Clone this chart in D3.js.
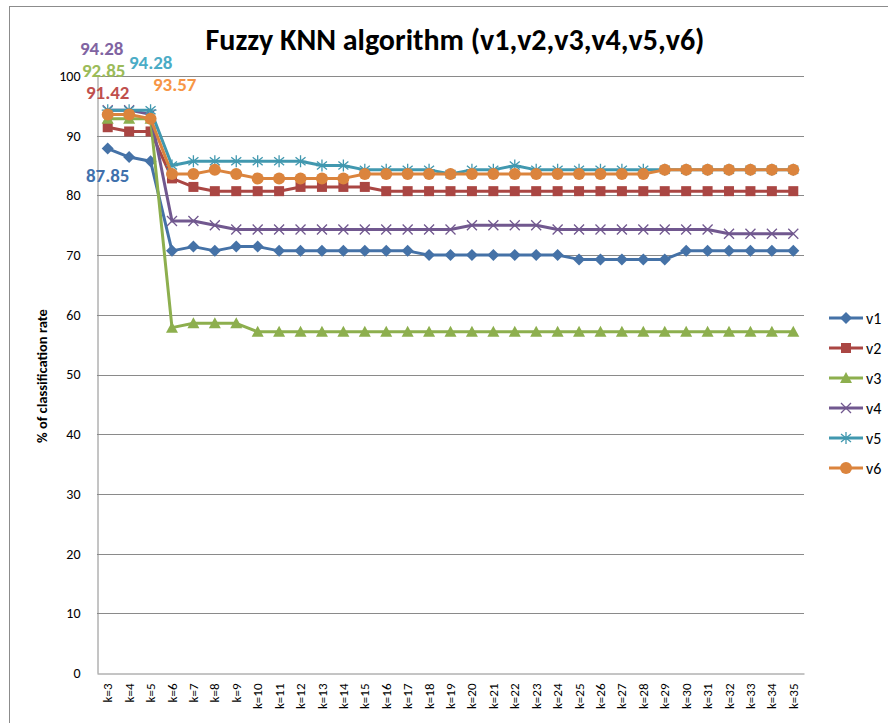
<!DOCTYPE html>
<html>
<head>
<meta charset="utf-8">
<script src="https://cdn.jsdelivr.net/npm/d3@7"></script>
<style>
  body { margin: 0; background: #fff; }
  svg { display: block; }
  svg text { font-family: Carlito, Calibri, Lato, "Open Sans", sans-serif; }
</style>
</head>
<body>
<svg id="chart" width="888" height="723"></svg>
<script>
const categories = d3.range(3, 36).map(k => `k=${k}`);

const v1 = [87.85, 86.42, 85.71, 70.71, 71.42, 70.71, 71.42, 71.42, 70.71, 70.71, 70.71, 70.71, 70.71, 70.71, 70.71,
  70.0, 70.0, 70.0, 70.0, 70.0, 70.0, 70.0, 69.28, 69.28, 69.28, 69.28, 69.28, 70.71, 70.71, 70.71, 70.71, 70.71, 70.71];
const v2 = [91.42, 90.71, 90.71, 82.85, 81.42, 80.71, 80.71, 80.71, 80.71, 81.42, 81.42, 81.42, 81.42, 80.71, 80.71,
  80.71, 80.71, 80.71, 80.71, 80.71, 80.71, 80.71, 80.71, 80.71, 80.71, 80.71, 80.71, 80.71, 80.71, 80.71, 80.71, 80.71, 80.71];
const v3 = [92.85, 92.85, 92.85, 57.85, 58.57, 58.57, 58.57, 57.14, 57.14, 57.14, 57.14, 57.14, 57.14, 57.14, 57.14,
  57.14, 57.14, 57.14, 57.14, 57.14, 57.14, 57.14, 57.14, 57.14, 57.14, 57.14, 57.14, 57.14, 57.14, 57.14, 57.14, 57.14, 57.14];
const v4 = [94.28, 94.28, 93.57, 75.71, 75.71, 75.0, 74.28, 74.28, 74.28, 74.28, 74.28, 74.28, 74.28, 74.28, 74.28,
  74.28, 74.28, 75.0, 75.0, 75.0, 75.0, 74.28, 74.28, 74.28, 74.28, 74.28, 74.28, 74.28, 74.28, 73.57, 73.57, 73.57, 73.57];
const v5 = [94.28, 94.28, 94.28, 85.0, 85.71, 85.71, 85.71, 85.71, 85.71, 85.71, 85.0, 85.0, 84.28, 84.28, 84.28,
  84.28, 83.57, 84.28, 84.28, 85.0, 84.28, 84.28, 84.28, 84.28, 84.28, 84.28, 84.28, 84.28, 84.28, 84.28, 84.28, 84.28, 84.28];
const v6 = [93.57, 93.57, 92.85, 83.57, 83.57, 84.28, 83.57, 82.85, 82.85, 82.85, 82.85, 82.85, 83.57, 83.57, 83.57,
  83.57, 83.57, 83.57, 83.57, 83.57, 83.57, 83.57, 83.57, 83.57, 83.57, 83.57, 84.28, 84.28, 84.28, 84.28, 84.28, 84.28, 84.28];

const seriesNames = ['v1', 'v2', 'v3', 'v4', 'v5', 'v6'];
const yTicks = [0, 10, 20, 30, 40, 50, 60, 70, 80, 90, 100];

// lbl = label offset from the first point (dx, baseline dy)
const series = [
  { name: 'v1', values: v1, color: '#4572A7', label: '#3F70AC', marker: 'diamond', lbl: [0, 33] },
  { name: 'v2', values: v2, color: '#AA4643', label: '#C0504D', marker: 'square', lbl: [0, -28] },
  { name: 'v3', values: v3, color: '#8DAF4E', label: '#9BBB59', marker: 'triangle', lbl: [-4, -42] },
  { name: 'v4', values: v4, color: '#71588F', label: '#8064A2', marker: 'cross', lbl: [-6, -55] },
  { name: 'v5', values: v5, color: '#4198AF', label: '#4BACC6', marker: 'star', lbl: [43, -41] },
  { name: 'v6', values: v6, color: '#DB843D', label: '#F79646', marker: 'circle', lbl: [67, -23] },
];

const svg = d3.select('#chart');

// chart frame
svg.append('rect').attr('x', 9.5).attr('y', 6.5).attr('width', 900).attr('height', 800)
  .attr('fill', 'none').attr('stroke', '#8c8c8c');

const plot = { left: 97, right: 804, top: 76, bottom: 673 };
const x = d3.scaleBand().domain(categories).range([plot.left, plot.right]);
const y = d3.scaleLinear().domain([0, 100]).range([plot.bottom, plot.top]);
const cx = c => x(c) + x.bandwidth() / 2;

// gridlines
svg.append('g').selectAll('line').data(yTicks.filter(t => t > 0)).join('line')
  .attr('x1', plot.left).attr('x2', plot.right)
  .attr('y1', d => Math.round(y(d)) + 0.5).attr('y2', d => Math.round(y(d)) + 0.5)
  .attr('stroke', '#8a8a8a').attr('stroke-width', 1);

// axes
const yAxis = svg.append('g').attr('transform', `translate(${plot.left + 0.5},0)`)
  .call(d3.axisLeft(y).tickValues(yTicks).tickSize(0).tickPadding(17));
yAxis.select('.domain').attr('stroke', '#8a8a8a');
yAxis.selectAll('text').attr('font-size', 14).attr('fill', '#000');

const xAxis = svg.append('g').attr('transform', `translate(0,${Math.round(plot.bottom) + 0.5})`)
  .call(d3.axisBottom(x).tickSize(0));
xAxis.select('.domain').attr('stroke', '#8a8a8a');
xAxis.selectAll('text')
  .attr('font-size', 13).attr('fill', '#000')
  .attr('transform', 'rotate(-90)')
  .attr('text-anchor', 'end')
  .attr('x', -10).attr('y', 0).attr('dy', '0.35em');

// titles
svg.append('text').attr('x', 455).attr('y', 50).attr('text-anchor', 'middle')
  .attr('font-size', 30).attr('font-weight', 'bold').text('Fuzzy KNN algorithm (v1,v2,v3,v4,v5,v6)');
svg.append('text').attr('transform', 'translate(47,376) rotate(-90)').attr('text-anchor', 'middle')
  .attr('font-size', 14.5).attr('font-weight', 'bold').text('% of classification rate');

function drawMarker(g, type, color) {
  if (type === 'diamond') {
    g.append('path').attr('d', 'M0,-6L6,0L0,6L-6,0Z').attr('fill', color);
  } else if (type === 'square') {
    g.append('rect').attr('x', -5).attr('y', -5).attr('width', 10).attr('height', 10).attr('fill', color);
  } else if (type === 'triangle') {
    g.append('path').attr('d', 'M0,-6L6,5L-6,5Z').attr('fill', color);
  } else if (type === 'cross') {
    g.append('path').attr('d', 'M-5,-5L5,5M-5,5L5,-5').attr('stroke', color).attr('stroke-width', 1.3);
  } else if (type === 'star') {
    g.append('path').attr('d', 'M0,-6L0,6M-5,-4L5,4M-5,4L5,-4M-6,0L6,0').attr('stroke', color).attr('stroke-width', 1.3);
  } else if (type === 'circle') {
    g.append('circle').attr('r', 6).attr('fill', color);
  }
}

const line = d3.line().x(d => cx(d.c)).y(d => y(d.v));

series.forEach(s => {
  const pts = s.values.map((v, i) => ({ c: categories[i], v }));
  const g = svg.append('g');
  g.append('path').attr('d', line(pts)).attr('fill', 'none')
    .attr('stroke', s.color).attr('stroke-width', 3).attr('stroke-linejoin', 'round');
  pts.forEach(p => {
    const m = g.append('g').attr('transform', `translate(${cx(p.c)},${y(p.v)})`);
    drawMarker(m, s.marker, s.color);
  });
});

// data labels on first points
series.forEach(s => {
  svg.append('text')
    .attr('x', cx(categories[0]) + s.lbl[0])
    .attr('y', y(s.values[0]) + s.lbl[1])
    .attr('text-anchor', 'middle')
    .attr('font-size', 19).attr('font-weight', 'bold')
    .attr('fill', s.label)
    .text(s.values[0].toFixed(2));
});

// legend
const legend = svg.append('g');
series.forEach((s, i) => {
  const ly = 318 + i * 30;
  legend.append('line').attr('x1', 829).attr('x2', 863).attr('y1', ly).attr('y2', ly)
    .attr('stroke', s.color).attr('stroke-width', 3);
  drawMarker(legend.append('g').attr('transform', `translate(846,${ly})`), s.marker, s.color);
  legend.append('text').attr('x', 866).attr('y', ly).attr('dy', '0.35em')
    .attr('font-size', 16).attr('fill', '#000').text(seriesNames[i]);
});
</script>
</body>
</html>
